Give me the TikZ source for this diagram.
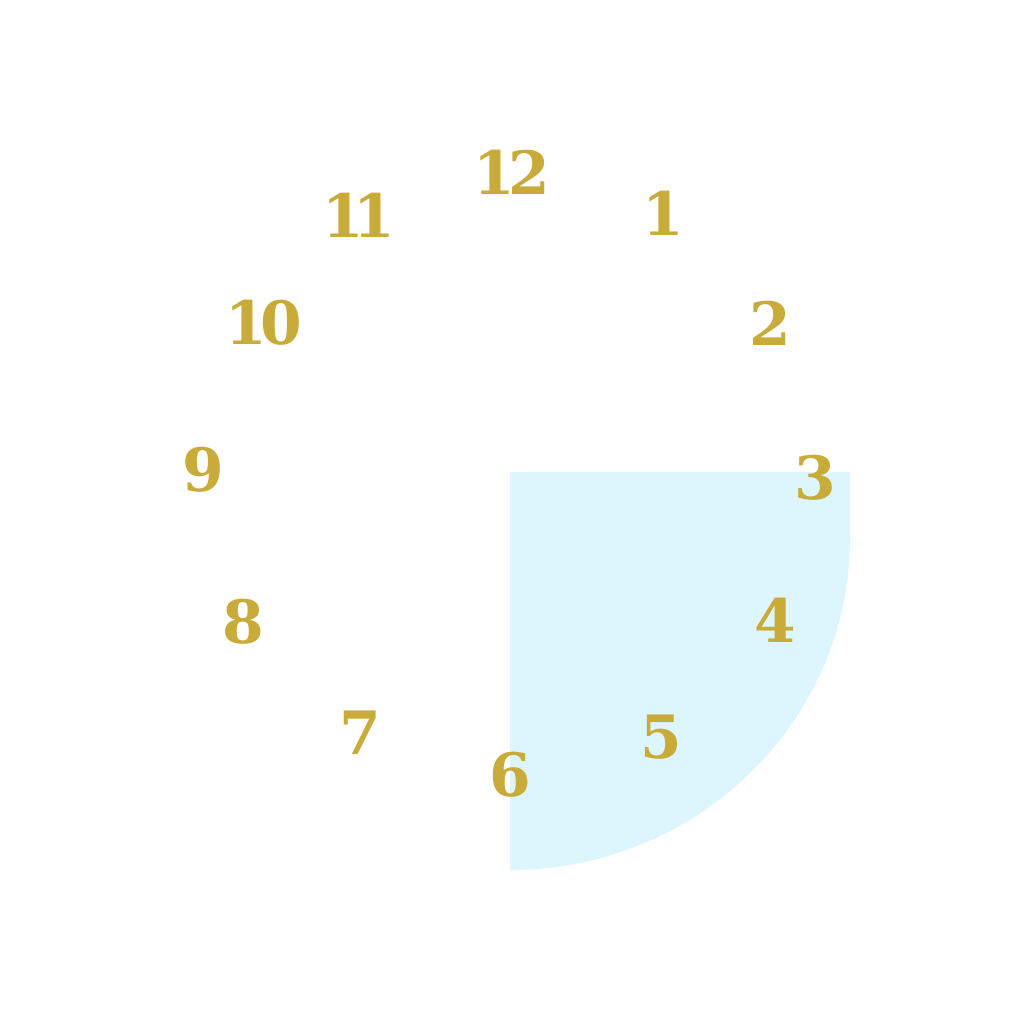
\documentclass[tikz,border=0pt]{standalone}
\usepackage{fontspec}
\setmainfont{DejaVu Serif}
\usetikzlibrary{positioning}
\definecolor{DialGold}{HTML}{C9AB3A}
\definecolor{QuarterBlue}{HTML}{DDF5FC}
\tikzset{
  hournum/.style={font=\bfseries\fontsize{17}{17}\selectfont, text=DialGold, inner sep=0pt}
}

\begin{document}
\begin{tikzpicture}[x=0.01cm, y=-0.01cm]
        \useasboundingbox (0,0) rectangle (1020,1020);
        % quarter wedge
        \fill[QuarterBlue] (510,472) -- (850,472) -- (850,538)
          arc[start angle=0, end angle=90, x radius=340, y radius=332] -- cycle;
        % hour numerals
        \foreach \n/\px/\py/\l in {12/512/172/{1\kern-2pt2}, 1/663/213/1,
            2/770/323/2, 3/815/478/3, 4/775/620/4, 5/661/737/5, 6/510/775/6,
            7/360/733/7, 8/243/622/8, 9/203/470/9,
            10/264/323/{1\kern-2pt0}, 11/359/215/{1\kern-3pt1}}
          {\node[hournum] (h\n) at (\px,\py) {\l};}
      \end{tikzpicture}
\end{document}
